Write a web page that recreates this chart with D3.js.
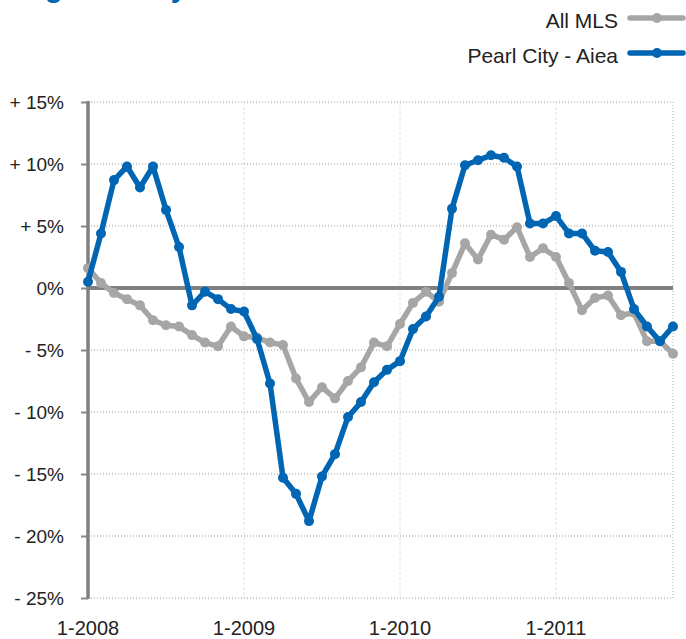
<!DOCTYPE html>
<html>
<head>
<meta charset="utf-8">
<script src="https://cdn.jsdelivr.net/npm/d3@7"></script>
<style>
  body { margin: 0; background: #fff; }
  text { font-family: "Liberation Sans", Arial, sans-serif; fill: #222; }
</style>
</head>
<body>
<div id="chart"></div>
<script>
// monthly change, 1-2008 .. 10-2011
var months = d3.range(0, 46);
var allMLS = [1.6, 0.4, -0.4, -0.9, -1.4, -2.6, -3.0, -3.1, -3.8, -4.4, -4.7, -3.1,
  -3.9, -4.0, -4.4, -4.6, -7.3, -9.2, -8.0, -8.9, -7.5, -6.4, -4.4, -4.7,
  -2.9, -1.2, -0.3, -1.1, 1.2, 3.6, 2.3, 4.3, 3.9, 4.9, 2.5, 3.2,
  2.5, 0.4, -1.8, -0.8, -0.6, -2.2, -2.0, -4.3, -4.3, -5.3];
var pearlCity = [0.5, 4.4, 8.7, 9.8, 8.1, 9.8, 6.3, 3.3, -1.4, -0.3, -0.9, -1.7,
  -1.9, -4.1, -7.7, -15.3, -16.6, -18.8, -15.2, -13.4, -10.4, -9.2, -7.6, -6.6,
  -5.9, -3.3, -2.3, -0.7, 6.4, 9.9, 10.3, 10.7, 10.5, 9.8, 5.2, 5.2,
  5.8, 4.4, 4.4, 3.0, 2.9, 1.3, -1.7, -3.1, -4.3, -3.1];
var yTicks = [15, 10, 5, 0, -5, -10, -15, -20, -25];
var yTickLabels = ["+ 15%", "+ 10%", "+ 5%", "0%", "- 5%", "- 10%", "- 15%", "- 20%", "- 25%"];
var xTicks = [0, 12, 24, 36];
var xTickLabels = ["1-2008", "1-2009", "1-2010", "1-2011"];
var seriesNames = ["All MLS", "Pearl City - Aiea"];
var seriesColors = ["#a6a6a6", "#0066b3"];

var width = 686, height = 639;
var svg = d3.select("#chart").append("svg")
  .attr("width", width)
  .attr("height", height);

var x = d3.scaleLinear().domain([0, 45]).range([88, 673]);
var y = d3.scaleLinear().domain([-25, 15]).range([598, 102]);

// title, cut off at the top edge
svg.append("text")
  .attr("x", 0).attr("y", -3)
  .style("font-size", "29px")
  .style("font-weight", "bold")
  .style("fill", "#0066b3")
  .text("Single Family Home Prices");

// year gridlines
svg.selectAll(".vgrid")
  .data(xTicks.slice(1))
  .enter().append("line")
  .attr("x1", function(d) { return x(d); })
  .attr("x2", function(d) { return x(d); })
  .attr("y1", y(15)).attr("y2", y(-25))
  .attr("stroke", "#e2e2e2")
  .attr("stroke-dasharray", "3,2");

svg.append("line")
  .attr("x1", x(45)).attr("x2", x(45))
  .attr("y1", y(15)).attr("y2", y(-25))
  .attr("stroke", "#b0b0b0")
  .attr("stroke-dasharray", "1,2");

// horizontal gridlines
svg.selectAll(".hgrid")
  .data(yTicks.filter(function(d) { return d !== 0; }))
  .enter().append("line")
  .attr("x1", x(0)).attr("x2", x(45))
  .attr("y1", function(d) { return y(d); })
  .attr("y2", function(d) { return y(d); })
  .attr("stroke", "#999")
  .attr("stroke-dasharray", "1,2");

// y axis
var yAxis = d3.axisLeft(y)
  .tickValues(yTicks)
  .tickSize(7)
  .tickPadding(17)
  .tickFormat(function(d, i) { return yTickLabels[i]; });

var gy = svg.append("g")
  .attr("transform", "translate(" + x(0) + ",0)")
  .call(yAxis);
gy.select(".domain").remove();
gy.selectAll(".tick line").attr("stroke", "#888").attr("stroke-width", 2);
gy.selectAll(".tick text")
  .style("font-size", "19px")
  .style("font-family", "'Liberation Sans', Arial, sans-serif")
  .attr("fill", "#222");

svg.append("line")
  .attr("x1", x(0)).attr("x2", x(0))
  .attr("y1", y(15) - 1).attr("y2", y(-25) + 1)
  .attr("stroke", "#808080")
  .attr("stroke-width", 3.5);

// zero line
svg.append("line")
  .attr("x1", x(0)).attr("x2", x(45))
  .attr("y1", y(0)).attr("y2", y(0))
  .attr("stroke", "#808080")
  .attr("stroke-width", 4);

// x labels
svg.selectAll(".xlab")
  .data(xTicks)
  .enter().append("text")
  .attr("x", function(d) { return x(d); })
  .attr("y", 635)
  .attr("text-anchor", "middle")
  .style("font-size", "20px")
  .text(function(d, i) { return xTickLabels[i]; });

// series
var line = d3.line()
  .x(function(d, i) { return x(months[i]); })
  .y(function(d) { return y(d); });

[allMLS, pearlCity].forEach(function(s, k) {
  svg.append("path")
    .datum(s)
    .attr("d", line)
    .attr("fill", "none")
    .attr("stroke", seriesColors[k])
    .attr("stroke-width", 5.5)
    .attr("stroke-linejoin", "round");
  svg.selectAll(".dot" + k)
    .data(s)
    .enter().append("circle")
    .attr("cx", function(d, i) { return x(months[i]); })
    .attr("cy", function(d) { return y(d); })
    .attr("r", 5)
    .attr("fill", seriesColors[k]);
});

// legend
var legend = svg.selectAll(".legend")
  .data(seriesNames)
  .enter().append("g")
  .attr("transform", function(d, i) { return "translate(0," + (18 + i * 35) + ")"; });

legend.append("text")
  .attr("x", 618).attr("y", 10)
  .attr("text-anchor", "end")
  .style("font-size", "21px")
  .text(function(d) { return d; });

legend.append("line")
  .attr("x1", 630).attr("x2", 683)
  .attr("y1", 0).attr("y2", 0)
  .attr("stroke", function(d, i) { return seriesColors[i]; })
  .attr("stroke-width", 5.5)
  .attr("stroke-linecap", "round");

legend.append("circle")
  .attr("cx", 657).attr("cy", 0).attr("r", 5)
  .attr("fill", function(d, i) { return seriesColors[i]; });
</script>
</body>
</html>
